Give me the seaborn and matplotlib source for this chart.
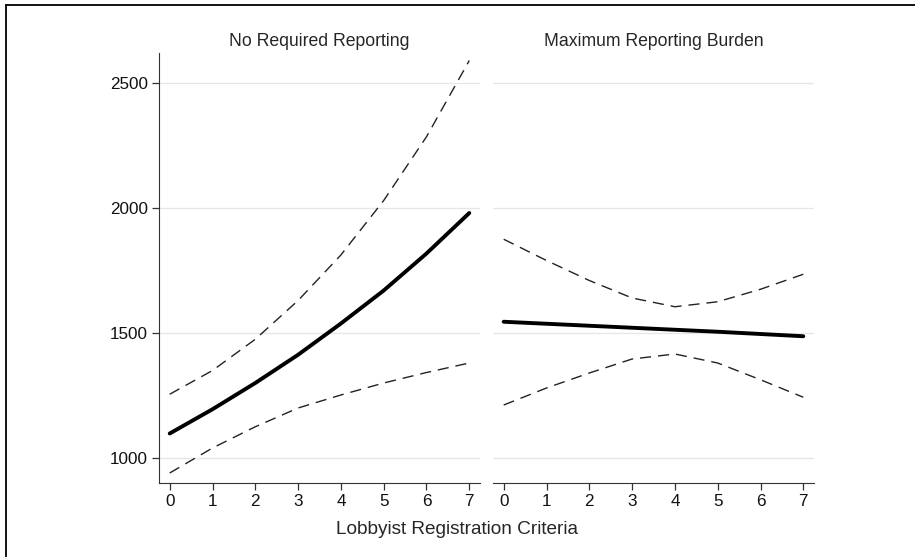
import seaborn as sns
import pandas as pd
import matplotlib.pyplot as plt
from matplotlib.lines import Line2D

criteria = [0, 1, 2, 3, 4, 5, 6, 7]

# No Required Reporting
none_est = [1098, 1195, 1300, 1413, 1538, 1670, 1818, 1980]
none_hi = [1255, 1350, 1475, 1630, 1812, 2030, 2285, 2590]
none_lo = [940, 1040, 1125, 1200, 1252, 1300, 1342, 1380]

# Maximum Reporting Burden
max_est = [1545, 1537, 1529, 1521, 1513, 1505, 1496, 1487]
max_hi = [1875, 1790, 1710, 1640, 1605, 1625, 1675, 1735]
max_lo = [1212, 1280, 1340, 1396, 1416, 1380, 1313, 1243]

panels = ["No Required Reporting", "Maximum Reporting Burden"]
yticks = [1000, 1500, 2000, 2500]

rows = []
for panel, est, hi, lo in [(panels[0], none_est, none_hi, none_lo),
                           (panels[1], max_est, max_hi, max_lo)]:
    for series, vals in [("est", est), ("hi", hi), ("lo", lo)]:
        for x, v in zip(criteria, vals):
            rows.append({"panel": panel, "series": series, "x": x, "y": v})
df = pd.DataFrame(rows)

sns.set_style("white")
plt.rcParams["font.family"] = ["Liberation Sans", "DejaVu Sans"]

fig = plt.figure(figsize=(9.15, 5.57), dpi=100)
W, H = 915, 557
ax1 = fig.add_axes([159 / W, (H - 483) / H, (480 - 159) / W, (483 - 53) / H])
ax2 = fig.add_axes([493 / W, (H - 483) / H, (814 - 493) / W, (483 - 53) / H])

for ax, panel in zip([ax1, ax2], panels):
    sub = df[df["panel"] == panel]
    sns.lineplot(data=sub[sub["series"] == "est"], x="x", y="y", ax=ax,
                 color="black", linewidth=2.8, solid_capstyle="round")
    for s in ["hi", "lo"]:
        sns.lineplot(data=sub[sub["series"] == s], x="x", y="y", ax=ax,
                     color="#222222", linewidth=1.0, dashes=(8, 5))
    ax.set_xlim(-0.25, 7.25)
    ax.set_ylim(900, 2620)
    ax.set_xticks(criteria)
    ax.set_yticks(yticks)
    ax.grid(axis="y", color="#e6e6e6", linewidth=0.9)
    ax.set_axisbelow(True)
    ax.set_xlabel("")
    ax.set_ylabel("")
    ax.set_title(panel, fontsize=12.7, pad=5)
    for sp in ["top", "right"]:
        ax.spines[sp].set_visible(False)
    ax.spines["bottom"].set_color("#333333")
    ax.spines["left"].set_color("#333333")
    ax.tick_params(axis="both", direction="out", length=5, width=0.9,
                   color="#333333", labelsize=12.3, labelcolor="#111111",
                   bottom=True, left=True, pad=3)

ax2.spines["left"].set_visible(False)
ax2.tick_params(axis="y", left=False, labelleft=False)

fig.supxlabel("Lobbyist Registration Criteria", fontsize=13.7, y=0.035)

# partial frame along left and top
fig.add_artist(Line2D([5.5 / W, 5.5 / W], [0, 1 - 4.5 / H], color="black", linewidth=1.3))
fig.add_artist(Line2D([5.5 / W, 1], [1 - 4.5 / H, 1 - 4.5 / H], color="black", linewidth=1.3))

fig.savefig("out.png", dpi=100)
